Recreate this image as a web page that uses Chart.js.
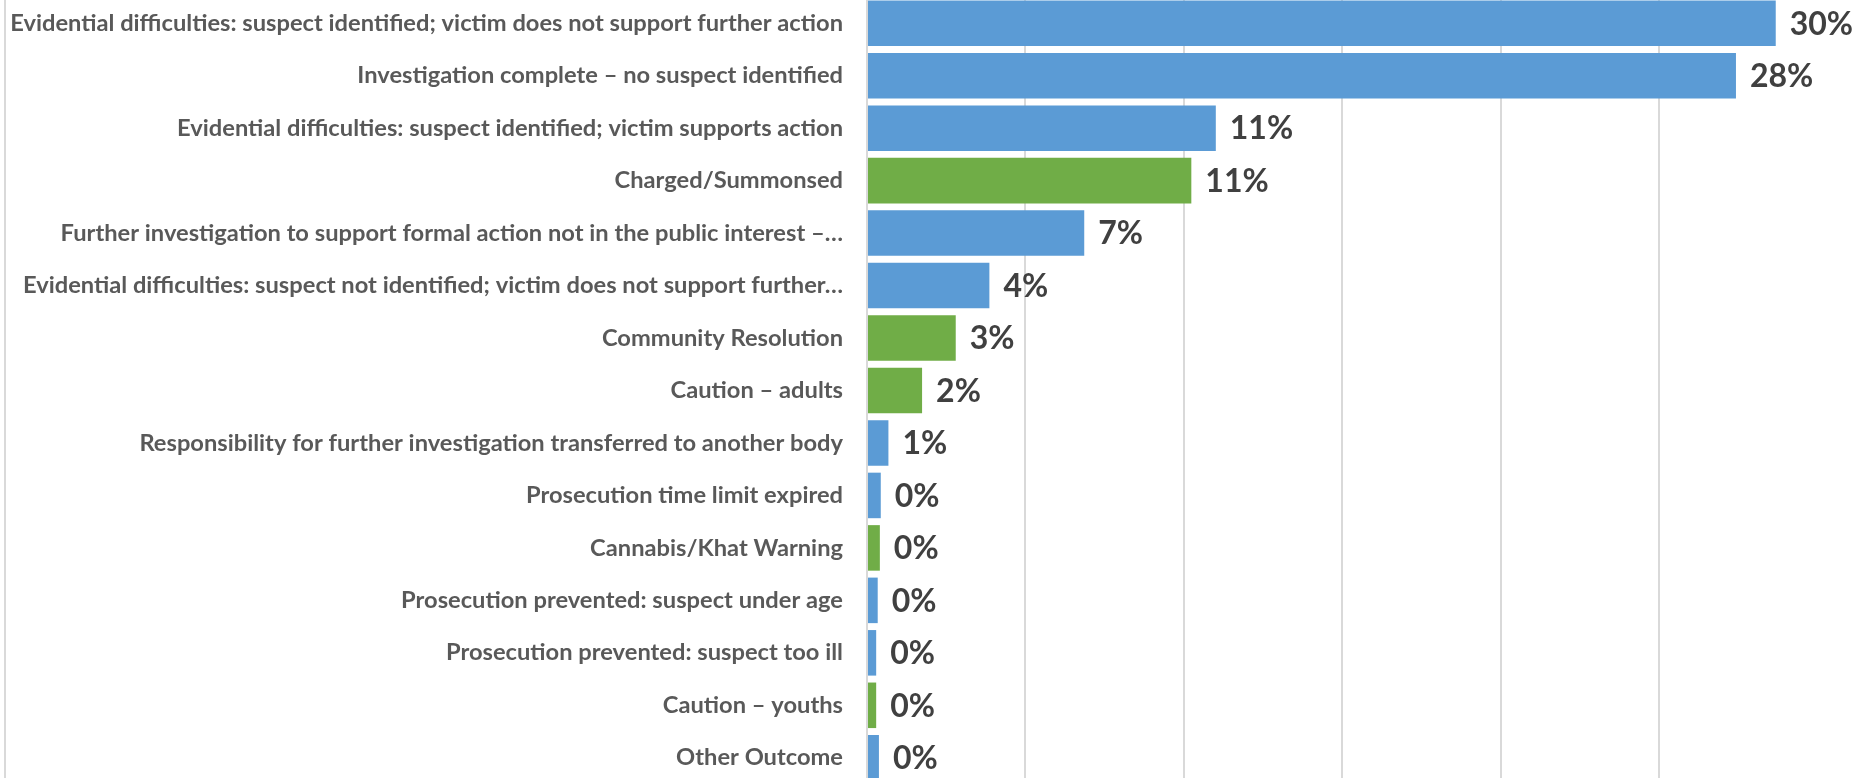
<!DOCTYPE html>
<html>
<head>
<meta charset="utf-8">
<script src="https://cdn.jsdelivr.net/npm/chart.js@4/dist/chart.umd.min.js"></script>
<style>
  html, body { margin: 0; padding: 0; background: #fff; overflow: hidden; }
  #wrap { position: absolute; left: 0; top: -3px; width: 1866px; height: 787px; }
  #edge { position: absolute; left: 4px; top: 0; width: 2px; height: 778px; background: #d9d9d9; }
</style>
</head>
<body>
<div id="wrap"><canvas id="chartCanvas" width="1866" height="787"></canvas></div>
<div id="edge"></div>
<script>
// outcome categories, top to bottom
const outcomes = [
  'Evidential difficulties: suspect identified; victim does not support further action',
  'Investigation complete \u2013 no suspect identified',
  'Evidential difficulties: suspect identified; victim supports action',
  'Charged/Summonsed',
  'Further investigation to support formal action not in the public interest \u2013\u2026',
  'Evidential difficulties: suspect not identified; victim does not support further\u2026',
  'Community Resolution',
  'Caution \u2013 adults',
  'Responsibility for further investigation transferred to another body',
  'Prosecution time limit expired',
  'Cannabis/Khat Warning',
  'Prosecution prevented: suspect under age',
  'Prosecution prevented: suspect too ill',
  'Caution \u2013 youths',
  'Other Outcome'
];

// share of outcomes, percent
const shares = [29.7, 28.4, 11.4, 10.6, 7.1, 4.0, 2.9, 1.8, 0.7, 0.45, 0.42, 0.35, 0.3, 0.3, 0.39];

// sanction = formal action against the suspect (green bars)
const sanction = [false, false, false, true, false, false, true, true, false, false, true, false, false, true, false];

const BLUE = '#5b9bd5';
const GREEN = '#70ad47';
const FONT = 'Lato, "Open Sans", sans-serif';

const chartCtx = document.getElementById('chartCanvas').getContext('2d');

// size the category labels so the longest one spans the same width as in the original
chartCtx.font = 'bold 100px ' + FONT;
const longest = Math.max(...outcomes.map(t => chartCtx.measureText(t).width));
const labelSize = Math.round(100 * 833 / longest * 10) / 10;

const valueLabels = {
  id: 'valueLabels',
  afterDatasetsDraw(chart) {
    const ctx = chart.ctx;
    const meta = chart.getDatasetMeta(0);
    ctx.save();
    ctx.font = 'bold 32px ' + FONT;
    ctx.fillStyle = '#404040';
    ctx.textAlign = 'left';
    ctx.textBaseline = 'middle';
    meta.data.forEach((bar, i) => {
      ctx.fillText(Math.round(shares[i]) + '%', bar.x + 14, bar.y + 1);
    });
    ctx.restore();
  }
};

new Chart(chartCtx, {
  type: 'bar',
  data: {
    labels: outcomes,
    datasets: [{
      data: shares,
      backgroundColor: sanction.map(s => s ? GREEN : BLUE),
      borderWidth: 0,
      categoryPercentage: 1,
      barPercentage: 0.868
    }]
  },
  options: {
    indexAxis: 'y',
    responsive: false,
    animation: false,
    devicePixelRatio: 1,
    layout: { padding: 0 },
    plugins: {
      legend: { display: false },
      tooltip: { enabled: false }
    },
    scales: {
      x: {
        min: 0,
        max: 32.65,
        afterFit: scale => {
          scale.height = 0;
          scale.paddingLeft = 0;
          scale.paddingRight = 0;
        },
        ticks: { display: false, stepSize: 5.18 },
        grid: {
          color: ctx => ctx.tick && ctx.tick.value > 32 ? 'rgba(0,0,0,0)' : '#d9d9d9',
          lineWidth: 2,
          drawTicks: false
        },
        border: { display: false }
      },
      y: {
        afterFit: scale => {
          scale.width = 867;
          scale.paddingTop = 0;
          scale.paddingBottom = 0;
        },
        ticks: {
          padding: 24,
          color: '#595959',
          font: { family: FONT, size: labelSize, weight: 'bold' },
          autoSkip: false
        },
        grid: { display: false, drawTicks: false },
        border: { display: true, color: '#d9d9d9', width: 2 }
      }
    }
  },
  plugins: [valueLabels]
});
</script>
</body>
</html>
